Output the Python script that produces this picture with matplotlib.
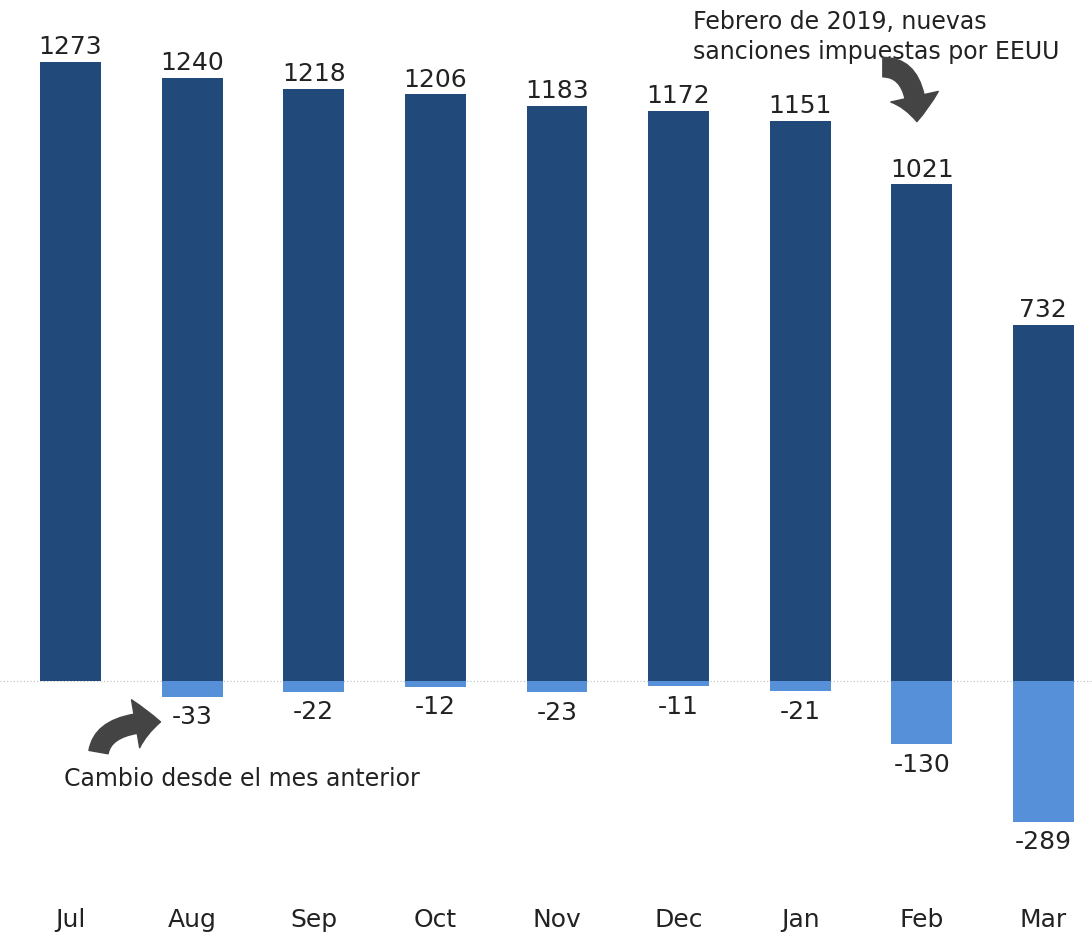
import matplotlib.pyplot as plt
from matplotlib.patches import FancyArrowPatch
from matplotlib.transforms import blended_transform_factory

months = ["Jul", "Aug", "Sep", "Oct", "Nov", "Dec", "Jan", "Feb", "Mar"]
totals = [1273, 1240, 1218, 1206, 1183, 1172, 1151, 1021, 732]
changes = [None, -33, -22, -12, -23, -11, -21, -130, -289]

dark = "#21497a"
light = "#5590d9"
txt = "#222222"

plt.rcParams['font.family'] = ['DejaVu Sans']

fig = plt.figure(figsize=(10.92, 9.35), dpi=100)
ax = fig.add_axes([0, 0, 1, 1])
ax.set_xlim(-0.58, 8.40)
ax.set_ylim(-522, 1400)
ax.axis('off')

x = list(range(len(months)))
ax.bar(x, totals, width=0.5, color=dark, zorder=2)
for i, v in enumerate(totals):
    ax.annotate(str(v), (i, v), xytext=(0, 2), textcoords='offset points',
                ha='center', va='bottom', fontsize=18, color=txt)

for i, c in enumerate(changes):
    if c is None:
        continue
    ax.bar(i, c, width=0.5, color=light, zorder=2)
    ax.annotate(str(c), (i, c), xytext=(0, -6), textcoords='offset points',
                ha='center', va='top', fontsize=18, color=txt)

# baseline
ax.axhline(0, color='#bbbbbb', linestyle=(0, (1, 2)), linewidth=0.8, zorder=1)

# month labels
trans = blended_transform_factory(ax.transData, ax.transAxes)
for i, m in enumerate(months):
    ax.text(i, 0.016, m, transform=trans, ha='center', va='center',
            fontsize=18, color=txt)

# annotations
ax.text(5.12, 1324, "Febrero de 2019, nuevas\nsanciones impuestas por EEUU",
        ha='left', va='center', fontsize=17, color=txt, linespacing=1.28)
ax.text(-0.053, -201, "Cambio desde el mes anterior",
        ha='left', va='center', fontsize=17, color=txt)

arrow_kw = dict(arrowstyle='simple,head_length=0.9,head_width=1.75,tail_width=0.7',
                color='#444444', mutation_scale=20, zorder=3,
                shrinkA=0, shrinkB=0)
ax.add_patch(FancyArrowPatch((0.23, -146), (0.74, -84),
                             connectionstyle='angle3,angleA=80,angleB=0', **arrow_kw))
ax.add_patch(FancyArrowPatch((6.68, 1262), (6.96, 1150),
                             connectionstyle='angle3,angleA=0,angleB=90', **arrow_kw))

fig.savefig('out.png', dpi=100, facecolor='white')
